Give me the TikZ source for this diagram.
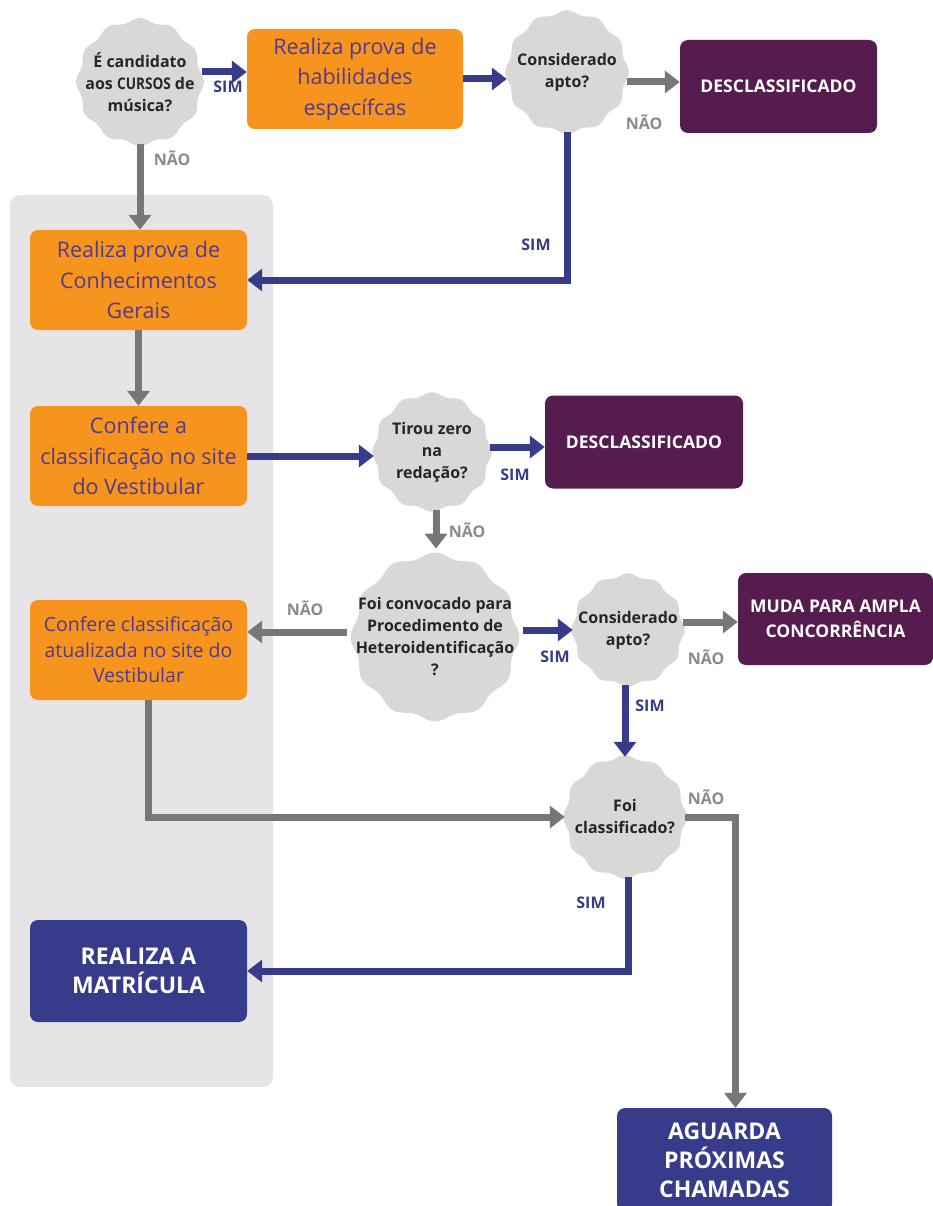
\documentclass[tikz,border=0pt]{standalone}
\usepackage{fontspec}
\setmainfont{Open Sans}
\newfontfamily\condfont[FakeStretch=0.85]{Open Sans}
\usetikzlibrary{arrows.meta}

\definecolor{laranja}{HTML}{F7941D}
\definecolor{roxo}{HTML}{561C4F}
\definecolor{azul}{HTML}{363B8A}
\definecolor{textolaranja}{HTML}{523A8C}
\definecolor{painel}{HTML}{E6E4E6}
\definecolor{decfill}{HTML}{DAD7D7}
\definecolor{setacinza}{HTML}{777777}
\definecolor{rotulocinza}{HTML}{8A8A8A}

\tikzset{
  caixalaranja/.style={rectangle, rounded corners=8pt, fill=laranja, text=textolaranja,
    minimum width=217pt, minimum height=100pt, align=center, font=\fontsize{21.5}{30.5}\selectfont},
  caixaroxa/.style={rectangle, rounded corners=8pt, fill=roxo, text=white,
    minimum width=197pt, minimum height=93pt, align=center, font=\bfseries\fontsize{17.5}{25}\selectfont},
  caixaazul/.style={rectangle, rounded corners=8pt, fill=azul, text=white,
    minimum width=217pt, minimum height=102pt, align=center, font=\bfseries\fontsize{23}{29}\selectfont},
  dectexto/.style={circle, inner sep=0pt, align=center, text=black!85,
    font=\bfseries\fontsize{16}{22}\selectfont},
  sim/.style={text=azul, font=\bfseries\fontsize{16}{18}\selectfont},
  nao/.style={text=rotulocinza, font=\bfseries\fontsize{16}{18}\selectfont},
  setasim/.style={draw=azul, line width=7pt, -{Triangle[length=15pt,width=22pt]}},
  setanao/.style={draw=setacinza, line width=7pt, -{Triangle[length=15pt,width=22pt]}}
}

% nome, posicao, raio, texto
\newcommand{\decisao}[4]{%
  \fill[decfill, shift={#2}] plot[domain=0:359, samples=360] (\x:{#3*(1+0.03*cos(12*\x))}) -- cycle;
  \node[dectexto, minimum size={#3*2pt}] (#1) at #2 {#4};}

\begin{document}
\begin{tikzpicture}[x=1pt, y=-1pt]
\useasboundingbox (0,0) rectangle (933,1206);
\fill[painel, rounded corners=10pt] (10,195) rectangle (273,1087);

% decisoes
\decisao{musica}{(140,82)}{62}{É candidato\\aos {\condfont CURSOS} de\\música?}
\decisao{apto1}{(567,72)}{60}{Considerado\\apto?}
\decisao{zero}{(432,452)}{58}{Tirou zero\\na\\redação?}
\decisao{hetero}{(435,637)}{82}{Foi convocado para\\Procedimento de\\Heteroidentificação\\?}
\decisao{apto2}{(628,630)}{55}{Considerado\\apto?}
\decisao{classif}{(625,817)}{60}{Foi\\classificado?}

% caixas
\node[caixalaranja, minimum width=216pt] (habil) at (355,79) {Realiza prova de\\habilidades\\específcas};
\node[caixaroxa] (descl1) at (778.5,86.5) {DESCLASSIFICADO};
\node[caixalaranja] (gerais) at (138.5,280) {Realiza prova de\\Conhecimentos\\Gerais};
\node[caixalaranja] (confere1) at (138.5,456) {Confere a\\classificação no site\\do Vestibular};
\node[caixaroxa, minimum width=198pt] (descl2) at (644,442) {DESCLASSIFICADO};
\node[caixalaranja, font=\fontsize{19.5}{25.5}\selectfont] (confere2) at (138.5,650) {Confere classificação\\atualizada no site do\\Vestibular};
\node[caixaroxa, minimum width=195pt, minimum height=92pt] (ampla) at (835.5,619) {MUDA PARA AMPLA\\CONCORRÊNCIA};
\node[caixaazul] (matricula) at (138.5,971) {REALIZA A\\MATRÍCULA};
\node[caixaazul, minimum width=215pt, minimum height=104pt] (aguarda) at (724.5,1160) {AGUARDA\\PRÓXIMAS\\CHAMADAS};

% conectores
\draw[setasim] ([yshift=10pt]musica.east) -- ([yshift=10pt]musica.east -| habil.west);
\draw[setasim] (habil.east) -- (habil.east -| apto1.west);
\draw[setanao] ([yshift=-10pt]apto1.east) -- ([yshift=-10pt]apto1.east -| descl1.west);
\draw[setasim] (apto1.south) |- (gerais.east);
\draw[setanao] (musica.south) -- (musica.south |- gerais.north);
\draw[setanao] (gerais.south) -- (confere1.north);
\draw[setasim] (confere1.east) -- (confere1.east -| zero.west);
\draw[setasim] ([yshift=5pt]zero.east) -- ([yshift=5pt]zero.east -| descl2.west);
\draw[setanao] ([xshift=4pt]zero.south) -- ([xshift=4pt]zero.south |- hetero.north);
\draw[setanao] ([yshift=5pt]hetero.west) -- ([yshift=5pt]hetero.west -| confere2.east);
\draw[setasim] ([yshift=7pt]hetero.east) -- ([yshift=7pt]hetero.east -| apto2.west);
\draw[setanao] ([yshift=8pt]apto2.east) -- ([yshift=8pt]apto2.east -| ampla.west);
\draw[setasim] ([xshift=-3pt]apto2.south) -- ([xshift=-3pt]apto2.south |- classif.north);
\draw[setanao] ([xshift=10pt]confere2.south) |- (classif.west);
\draw[setanao] (classif.east) -| ([xshift=11pt]aguarda.north);
\draw[setasim] ([xshift=3pt]classif.south) |- (matricula.east);

% rotulos
\node[sim] (r1) at (228,87) {SIM};
\node[nao] (r2) at (644,122) {NÃO};
\node[sim] (r3) at (536,245) {SIM};
\node[nao] (r4) at (172,158) {NÃO};
\node[sim] (r5) at (515,475) {SIM};
\node[nao] (r6) at (467,530) {NÃO};
\node[nao] (r7) at (305,608) {NÃO};
\node[sim] (r8) at (555,657) {SIM};
\node[nao] (r9) at (706,657) {NÃO};
\node[sim] (r10) at (650,706) {SIM};
\node[nao] (r11) at (706,797) {NÃO};
\node[sim] (r12) at (591,903) {SIM};
\end{tikzpicture}
\end{document}
